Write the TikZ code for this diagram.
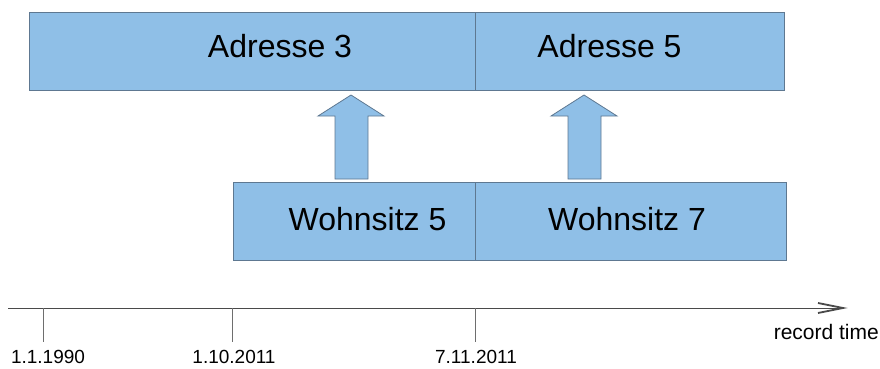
\documentclass[tikz,border=0pt]{standalone}
\usepackage{fontspec}
\setmainfont{Liberation Sans}
\definecolor{boxfill}{HTML}{8FBFE7}
\definecolor{boxline}{HTML}{5E7891}
\definecolor{axisline}{HTML}{4A4A4A}
\tikzset{
  period/.style={draw=boxline, fill=boxfill, line width=1.1pt, rectangle, inner sep=0pt, anchor=north west},
  boxtext/.style={font=\fontsize{32}{36}\selectfont, inner sep=0pt},
  datetext/.style={font=\fontsize{19}{22}\selectfont, inner sep=0pt},
  uparrow/.style={draw=boxline, fill=boxfill, line width=0.8pt, line join=miter},
  tick/.style={draw=axisline!80, line width=0.6pt},
}
\begin{document}
\begin{tikzpicture}[x=1pt, y=-1pt]
\useasboundingbox (0,0) rectangle (880,369);

% address periods
\node[period, minimum width=446pt, minimum height=78pt] (adr3) at (29,12) {};
\node[period, minimum width=309pt, minimum height=78pt] (adr5) at (475,12) {};
\node[boxtext] (adr3t) at (280,46) {Adresse 3};
\node[boxtext] (adr5t) at (609.5,46) {Adresse 5};

% residence periods
\node[period, minimum width=242pt, minimum height=78pt] (wohn5) at (233,182) {};
\node[period, minimum width=311pt, minimum height=78pt] (wohn7) at (475,182) {};
\node[boxtext] (wohn5t) at (367.5,219) {Wohnsitz 5};
\node[boxtext] (wohn7t) at (627,219) {Wohnsitz 7};

% block arrows from residence to address
\draw[uparrow] (335,179) -- (335,116) -- (318,116) -- (351,95) -- (384,116) -- (368,116) -- (368,179) -- cycle;
\draw[uparrow] (568,179) -- (568,116) -- (551,116) -- (584,95) -- (617,116) -- (601,116) -- (601,179) -- cycle;

% time axis
\coordinate (axstart) at (8,308);
\coordinate (axend) at (843,308);
\draw[draw=axisline, line width=0.9pt] (axstart) -- (axend);
\draw[draw=axisline, line width=1.8pt, line join=miter] (818,303) -- (axend) -- (818,313);
\node[font=\fontsize{21}{24}\selectfont, inner sep=0pt, anchor=east] (rt) at (879,332) {record time};

% ticks and dates
\coordinate (t1) at (43,308);
\coordinate (t2) at (232,308);
\coordinate (t3) at (475,308);
\draw[tick] (t1) -- ++(0,34);
\draw[tick] (t2) -- ++(0,34);
\draw[tick] (t3) -- ++(0,34);
\node[datetext] (d1) at (48,357) {1.1.1990};
\node[datetext] (d2) at (234,357) {1.10.2011};
\node[datetext] (d3) at (476,357) {7.11.2011};
\end{tikzpicture}
\end{document}
